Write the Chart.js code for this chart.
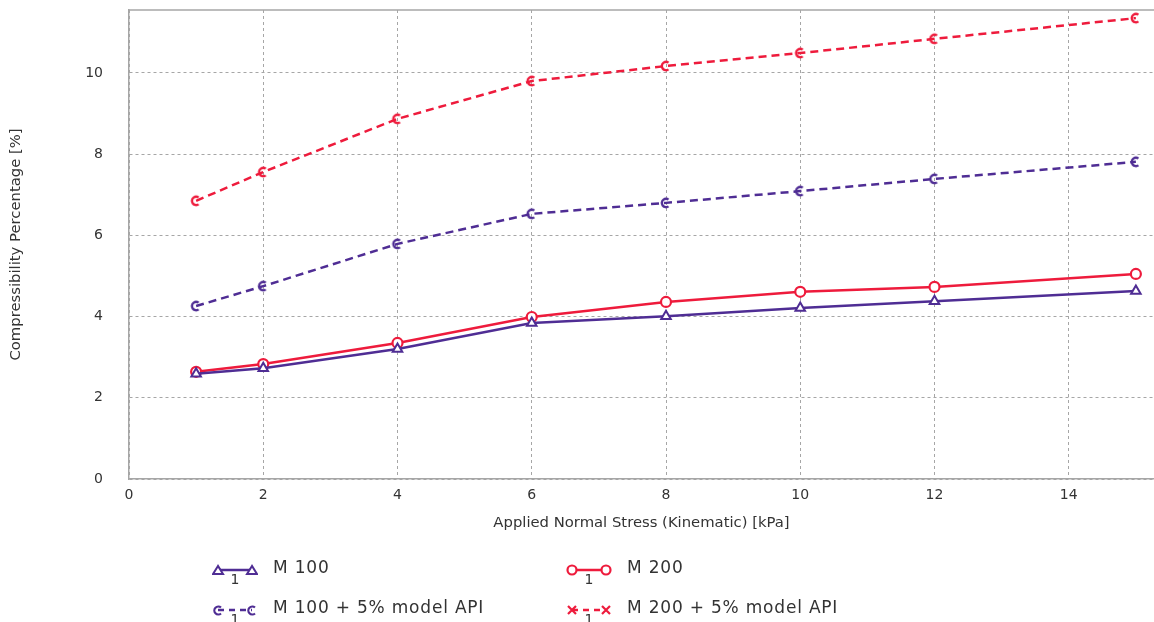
<!DOCTYPE html>
<html>
<head>
<meta charset="utf-8">
<script src="https://cdn.jsdelivr.net/npm/chart.js@4"></script>
<style>
  html, body { margin: 0; padding: 0; background: #fff; }
  #wrap { position: relative; width: 1154px; height: 622px; font-family: "DejaVu Sans", sans-serif; color: #333; }
  .leg { position: absolute; font-size: 17px; line-height: 17px; letter-spacing: 0.8px; white-space: nowrap; }
  .sym { position: absolute; }
  .one { position: absolute; font-size: 14px; line-height: 14px; width: 20px; text-align: center; }
</style>
</head>
<body>
<div id="wrap">
  <canvas id="chart"></canvas>
  <div id="legend"></div>
</div>
<script>
// 横軸（応力）
const stress = [1, 2, 4, 6, 8, 10, 12, 15];

// 各系列の値 [%]
const m100 = [2.59, 2.73, 3.20, 3.84, 4.01, 4.21, 4.38, 4.63];
const m200 = [2.64, 2.83, 3.35, 3.99, 4.36, 4.61, 4.73, 5.05];
const m100api = [4.26, 4.75, 5.79, 6.53, 6.80, 7.09, 7.39, 7.81];
const m200api = [6.85, 7.56, 8.87, 9.80, 10.17, 10.49, 10.84, 11.35];

const seriesLabels = ['M 100', 'M 200', 'M 100 + 5% model API', 'M 200 + 5% model API'];

const purple = '#4f2d94';
const red = '#ee1b3c';

// 「C」型マーカーを作る
function makeC(color) {
    const c = document.createElement('canvas');
    c.width = 14; c.height = 14;
    const g = c.getContext('2d');
    g.strokeStyle = color;
    g.lineWidth = 2.4;
    g.beginPath();
    g.arc(7, 7, 4.2, 0.3 * Math.PI, 1.7 * Math.PI);
    g.stroke();
    return c;
}

function pts(arr) {
    return arr.map((v, i) => ({ x: stress[i], y: v }));
}

// 上側の枠線
const topBorder = {
    id: 'topBorder',
    afterDraw(chart) {
        const { ctx, chartArea } = chart;
        ctx.save();
        ctx.strokeStyle = '#a6a6a6';
        ctx.lineWidth = 1.5;
        ctx.beginPath();
        ctx.moveTo(chartArea.left, chartArea.top);
        ctx.lineTo(chartArea.right, chartArea.top);
        ctx.stroke();
        ctx.restore();
    }
};

new Chart(document.getElementById('chart'), {
    type: 'line',
    data: {
        datasets: [
            {
                label: seriesLabels[0], data: pts(m100),
                borderColor: purple, borderWidth: 2.5,
                pointStyle: 'triangle', pointRadius: 5.5,
                pointBackgroundColor: '#fff', pointBorderColor: purple, pointBorderWidth: 2
            },
            {
                label: seriesLabels[1], data: pts(m200),
                borderColor: red, borderWidth: 2.5,
                pointStyle: 'circle', pointRadius: 5,
                pointBackgroundColor: '#fff', pointBorderColor: red, pointBorderWidth: 2.2
            },
            {
                label: seriesLabels[2], data: pts(m100api),
                borderColor: purple, borderWidth: 2.5, borderDash: [8, 5],
                pointStyle: makeC(purple)
            },
            {
                label: seriesLabels[3], data: pts(m200api),
                borderColor: red, borderWidth: 2.5, borderDash: [8, 5],
                pointStyle: makeC(red)
            }
        ]
    },
    options: {
        responsive: true,
        maintainAspectRatio: false,
        animation: false,
        layout: { autoPadding: false, padding: { top: 10, right: 0, left: 0, bottom: 83 } },
        plugins: { legend: { display: false }, tooltip: { enabled: false } },
        scales: {
            x: {
                type: 'linear', min: 0, max: 15.27,
                ticks: { stepSize: 2, padding: 8, color: '#333', font: { family: 'DejaVu Sans', size: 14 } },
                afterBuildTicks: s => { s.ticks = s.ticks.filter(t => t.value % 2 === 0); },
                afterFit: s => { s.height = 60; s.paddingLeft = 0; s.paddingRight = 0; },
                grid: { color: '#a6a6a6', lineWidth: 1, drawTicks: false },
                border: { color: '#a6a6a6', width: 1.5, dash: [3, 3] },
                title: { display: true, text: 'Applied Normal Stress (Kinematic) [kPa]', color: '#333',
                    font: { family: 'DejaVu Sans', size: 14.8 }, padding: { top: 4, bottom: 7 } }
            },
            y: {
                min: 0, max: 11.55,
                ticks: { stepSize: 2, padding: 26, color: '#333', font: { family: 'DejaVu Sans', size: 14 } },
                afterBuildTicks: s => { s.ticks = s.ticks.filter(t => t.value % 2 === 0); },
                afterFit: s => { s.width = 129; s.paddingTop = 0; s.paddingBottom = 0; },
                grid: { color: '#a6a6a6', lineWidth: 1, drawTicks: false },
                border: { color: '#a6a6a6', width: 1.5, dash: [3, 3] },
                title: { display: true, text: 'Compressibility Percentage [%]', color: '#333',
                    font: { family: 'DejaVu Sans', size: 14.8 }, padding: { top: 7, bottom: 4 } }
            }
        }
    },
    plugins: [topBorder]
});

// 凡例（HTML）
function symbol(color, dashed, marker) {
    const dash = dashed ? ' stroke-dasharray="6 5"' : '';
    let m = '';
    [6, 40].forEach(cx => {
        if (marker === 'tri') {
            m += `<polygon points="${cx},2 ${cx - 5},10 ${cx + 5},10" fill="#fff" stroke="${color}" stroke-width="2"/>`;
        } else if (marker === 'circ') {
            m += `<circle cx="${cx}" cy="6" r="4.5" fill="#fff" stroke="${color}" stroke-width="2.2"/>`;
        } else if (marker === 'c') {
            m += `<path d="M ${cx + 3} 3.5 A 4 4 0 1 0 ${cx + 3} 9.5" fill="none" stroke="${color}" stroke-width="2.2"/>`;
        } else {
            m += `<path d="M ${cx - 4} 2 L ${cx + 4} 10 M ${cx + 4} 2 L ${cx - 4} 10" stroke="${color}" stroke-width="2.2"/>`;
        }
    });
    return `<svg width="46" height="12"><line x1="6" y1="6" x2="40" y2="6" stroke="${color}" stroke-width="2.5"${dash}/>${m}</svg>`;
}

const legendItems = [
    { x: 212, y: 561, color: purple, dashed: false, marker: 'tri', text: seriesLabels[0] },
    { x: 566, y: 561, color: red, dashed: false, marker: 'circ', text: seriesLabels[1] },
    { x: 212, y: 601, color: purple, dashed: true, marker: 'c', text: seriesLabels[2] },
    { x: 566, y: 601, color: red, dashed: true, marker: 'x', text: seriesLabels[3] }
];

const legend = document.getElementById('legend');
legendItems.forEach(it => {
    legend.innerHTML += `<div class="sym" style="left:${it.x}px;top:${it.y}px">${symbol(it.color, it.dashed, it.marker)}</div>`
        + `<div class="one" style="left:${it.x + 13}px;top:${it.y + 11}px">1</div>`
        + `<div class="leg" style="left:${it.x + 61}px;top:${it.y - 2}px">${it.text}</div>`;
});
</script>
</body>
</html>
